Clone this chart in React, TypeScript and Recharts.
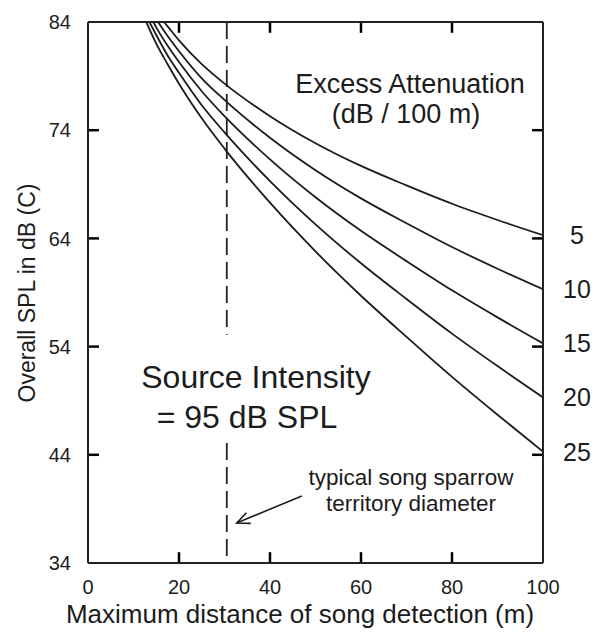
import React from 'react';
import { LineChart, Line, XAxis, YAxis, ReferenceLine, LabelList, Label } from 'recharts';

// ---- data ----
const distance = [15, 17.5, 20, 25, 30, 40, 50, 60, 70, 80, 90, 100];
const attenuation = [5, 10, 15, 20, 25];
const entryDistance = [16.7, 15.4, 14.35, 13.5, 12.8]; // where each curve enters the 84 dB top edge
const spl5 = [null, 83.6, 82.3, 80.1, 78.3, 75.3, 72.8, 70.7, 68.9, 67.2, 65.7, 64.3];
const spl10 = [null, 82.7, 81.3, 78.8, 76.8, 73.3, 70.3, 67.7, 65.4, 63.2, 61.2, 59.3];
const spl15 = [83.5, 81.8, 80.3, 77.6, 75.3, 71.3, 67.8, 64.7, 61.9, 59.2, 56.7, 54.3];
const spl20 = [82.8, 80.9, 79.3, 76.3, 73.8, 69.3, 65.3, 61.7, 58.4, 55.2, 52.2, 49.3];
const spl25 = [82.0, 80.1, 78.3, 75.1, 72.3, 67.3, 62.8, 58.7, 54.9, 51.2, 47.7, 44.3];
const xTicks = [0, 20, 40, 60, 80, 100];
const xInnerTicks = [20, 40, 60, 80];
const yTicks = [34, 44, 54, 64, 74, 84];
const yInnerTicks = [44, 54, 64, 74];
const territoryDiameter = 30.5;
const dashUpperEnd = 55.1;
const dashLowerStart = 45.1;
const arrowFrom = { x: 47.0, y: 40.2 };
const arrowTo = { x: 32.7, y: 37.7 };

const X_MIN = 0, X_MAX = 100, Y_MIN = 34, Y_MAX = 84;
const TICK_DX = 2.4;  // inward tick length in x units (~11px)
const TICK_DY = 1.0;  // inward tick length in y units (~11px)

const FONT = '"Liberation Sans", Arial, Helvetica, sans-serif';
const INK = '#1c1c1c';
const AXIS = '#222';

const allSpl = [spl5, spl10, spl15, spl20, spl25];

function buildSeries(entry: number, values: (number | null)[]) {
  const pts: { d: number; spl: number }[] = [{ d: entry, spl: Y_MAX }];
  distance.forEach((d, i) => {
    const v = values[i];
    if (v != null && d > entry) pts.push({ d, spl: v });
  });
  return pts;
}

const series = attenuation.map((a, i) => ({ name: String(a), data: buildSeries(entryDistance[i], allSpl[i]) }));

const ArrowShape = (props: any) => {
  const { x1, y1, x2, y2 } = props;
  const ang = Math.atan2(y1 - y2, x1 - x2);
  const len = 14;
  const spread = 0.42;
  const ax = x2 + len * Math.cos(ang + spread);
  const ay = y2 + len * Math.sin(ang + spread);
  const bx = x2 + len * Math.cos(ang - spread);
  const by = y2 + len * Math.sin(ang - spread);
  return (
    <g>
      <line x1={x1} y1={y1} x2={x2} y2={y2} stroke={INK} strokeWidth={1.6} />
      <polyline points={`${ax},${ay} ${x2},${y2} ${bx},${by}`} fill="none" stroke={INK} strokeWidth={1.6} />
    </g>
  );
};

export default function App() {
  return (
    <div style={{ position: 'absolute', left: 0, top: 0, background: '#fff' }}>
      <LineChart width={599} height={637} margin={{ top: 21, right: 0, bottom: 0, left: 28 }}>
        <XAxis
          xAxisId="bottom"
          type="number"
          dataKey="d"
          domain={[X_MIN, X_MAX]}
          ticks={xTicks}
          allowDataOverflow
          height={74}
          tickLine={false}
          tickMargin={11}
          stroke={AXIS}
          strokeWidth={2}
          tick={{ fontSize: 20, fill: INK, fontFamily: FONT }}
        >
          <Label
            content={(p: any) => {
              const vb = p.viewBox;
              return (
                <text x={vb.x + 212} y={vb.y + 60} textAnchor="middle" fontSize={26} fill={INK} fontFamily={FONT}>
                  Maximum distance of song detection (m)
                </text>
              );
            }}
          />
        </XAxis>
        <XAxis
          xAxisId="top"
          type="number"
          dataKey="d"
          orientation="top"
          domain={[X_MIN, X_MAX]}
          allowDataOverflow
          height={1}
          tickLine={false}
          tick={false}
          stroke={AXIS}
          strokeWidth={2}
        />
        <YAxis
          yAxisId="left"
          type="number"
          domain={[Y_MIN, Y_MAX]}
          ticks={yTicks}
          allowDataOverflow
          width={60}
          tickLine={false}
          tickMargin={11}
          stroke={AXIS}
          strokeWidth={2}
          tick={{ fontSize: 20, fill: INK, fontFamily: FONT }}
        >
          <Label
            content={(p: any) => {
              const vb = p.viewBox;
              const cx = vb.x + 7;
              const cy = vb.y + 271;
              return (
                <text x={cx} y={cy} transform={`rotate(-90 ${cx} ${cy})`} textAnchor="middle" fontSize={23} fill={INK} fontFamily={FONT}>
                  Overall SPL in dB (C)
                </text>
              );
            }}
          />
        </YAxis>
        <YAxis
          yAxisId="right"
          type="number"
          orientation="right"
          domain={[Y_MIN, Y_MAX]}
          allowDataOverflow
          width={56}
          tickLine={false}
          tick={false}
          stroke={AXIS}
          strokeWidth={2}
        />

        {xInnerTicks.map((v) => (
          <ReferenceLine key={`b${v}`} xAxisId="bottom" yAxisId="left" segment={[{ x: v, y: Y_MIN }, { x: v, y: Y_MIN + TICK_DY }]} stroke="#000" strokeWidth={2.5} />
        ))}
        {xInnerTicks.map((v) => (
          <ReferenceLine key={`tp${v}`} xAxisId="bottom" yAxisId="left" segment={[{ x: v, y: Y_MAX }, { x: v, y: Y_MAX - TICK_DY }]} stroke="#000" strokeWidth={2.5} />
        ))}
        {yInnerTicks.map((v) => (
          <ReferenceLine key={`l${v}`} xAxisId="bottom" yAxisId="left" segment={[{ x: X_MIN, y: v }, { x: X_MIN + TICK_DX, y: v }]} stroke="#000" strokeWidth={2.5} />
        ))}
        {yInnerTicks.map((v) => (
          <ReferenceLine key={`r${v}`} xAxisId="bottom" yAxisId="left" segment={[{ x: X_MAX, y: v }, { x: X_MAX - TICK_DX, y: v }]} stroke="#000" strokeWidth={2.5} />
        ))}

        <ReferenceLine
          xAxisId="bottom"
          yAxisId="left"
          segment={[{ x: territoryDiameter, y: Y_MAX }, { x: territoryDiameter, y: dashUpperEnd }]}
          stroke={AXIS}
          strokeWidth={1.8}
          strokeDasharray="17 7"
        />
        <ReferenceLine
          xAxisId="bottom"
          yAxisId="left"
          segment={[{ x: territoryDiameter, y: dashLowerStart }, { x: territoryDiameter, y: Y_MIN }]}
          stroke={AXIS}
          strokeWidth={1.8}
          strokeDasharray="17 7"
        />
        <ReferenceLine
          xAxisId="bottom"
          yAxisId="left"
          segment={[arrowFrom, arrowTo]}
          shape={ArrowShape}
        />

        {series.map((s) => (
          <Line
            key={s.name}
            xAxisId="bottom"
            yAxisId="left"
            data={s.data}
            dataKey="spl"
            type="monotone"
            stroke={INK}
            strokeWidth={1.8}
            dot={false}
            isAnimationActive={false}
          >
            <LabelList
              dataKey="spl"
              content={(p: any) =>
                p.index === s.data.length - 1 ? (
                  <text x={p.x + 34} y={p.y} dy="0.36em" textAnchor="middle" fontSize={25} fill={INK} fontFamily={FONT}>
                    {s.name}
                  </text>
                ) : null
              }
            />
          </Line>
        ))}

        <text x={410} y={93} textAnchor="middle" fontSize={27} fill={INK} fontFamily={FONT}>Excess Attenuation</text>
        <text x={406} y={123} textAnchor="middle" fontSize={27} fill={INK} fontFamily={FONT}>(dB / 100 m)</text>
        <text x={256} y={388} textAnchor="middle" fontSize={32} fill={INK} fontFamily={FONT}>Source Intensity</text>
        <text x={247} y={428} textAnchor="middle" fontSize={32} fill={INK} fontFamily={FONT}>= 95 dB SPL</text>
        <text x={411} y={485} textAnchor="middle" fontSize={22.5} fill={INK} fontFamily={FONT}>typical song sparrow</text>
        <text x={411} y={511} textAnchor="middle" fontSize={22.5} fill={INK} fontFamily={FONT}>territory diameter</text>
      </LineChart>
    </div>
  );
}
